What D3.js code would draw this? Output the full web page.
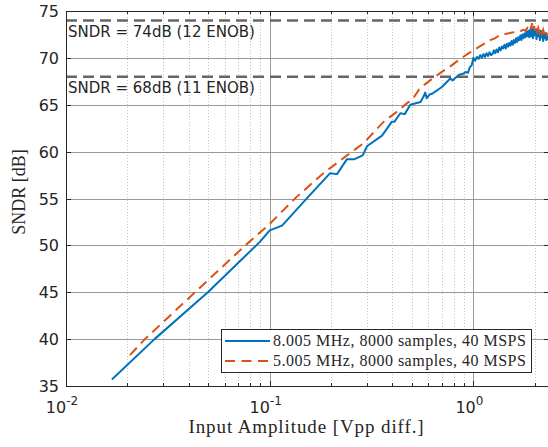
<!DOCTYPE html>
<html>
<head>
<meta charset="utf-8">
<script src="https://cdn.jsdelivr.net/npm/d3@7"></script>
<style>
  body { margin: 0; background: #fff; }
  svg { display: block; }
  .tick-label { font-family: "DejaVu Sans", sans-serif; fill: #262626; }
  .serif { font-family: "Liberation Serif", "DejaVu Serif", serif; fill: #262626; }
</style>
</head>
<body>
<script>
// Amplitude sweep, 8.005 MHz input
var ampBlue = [0.0168, 0.0272, 0.0497, 0.0897, 0.1, 0.115, 0.149, 0.198, 0.214, 0.2395, 0.261, 0.286, 0.301, 0.356, 0.398, 0.41, 0.4375,
  0.46, 0.49, 0.51, 0.55, 0.57, 0.58, 0.59, 0.61, 0.63, 0.66, 0.70, 0.73, 0.77, 0.79, 0.82, 0.85, 0.89, 0.92, 0.94, 0.96, 0.98,
  1.00, 1.02, 1.04, 1.06, 1.08, 1.10, 1.12, 1.14, 1.16, 1.18, 1.20, 1.22, 1.24, 1.26, 1.28, 1.30, 1.32, 1.34, 1.36, 1.38,
  1.40, 1.42, 1.44, 1.46, 1.48, 1.50, 1.52, 1.54, 1.56, 1.58, 1.60, 1.62, 1.64, 1.66, 1.68, 1.70, 1.72, 1.74, 1.76, 1.78,
  1.80, 1.82, 1.84, 1.86, 1.88, 1.90, 1.92, 1.94, 1.96, 1.98, 2.00, 2.02, 2.04, 2.06, 2.08, 2.10, 2.12, 2.14, 2.16, 2.18,
  2.20, 2.22, 2.24, 2.26, 2.28, 2.30, 2.32, 2.34, 2.36];
var sndrBlue = [35.7, 40, 45, 50.4, 51.6, 52.1, 54.8, 57.7, 57.6, 59.2, 59.2, 59.6, 60.6, 61.7, 63.2, 63.2, 64.1,
  64.0, 65.0, 65.1, 65.3, 65.9, 66.3, 65.7, 66.1, 66.2, 66.5, 66.9, 67.3, 67.8, 67.6, 67.9, 68.2, 68.3, 68.5, 68.4, 69.0, 69.2,
  70.0, 69.7, 70.1, 69.9, 70.3, 70.0, 70.4, 70.1, 70.5, 70.2, 70.6, 70.3, 70.4, 70.8, 70.5, 70.9, 70.6, 71.1, 70.8, 71.2,
  71.0, 71.4, 71.0, 71.5, 71.2, 71.6, 71.3, 71.8, 71.4, 71.9, 71.6, 72.1, 71.7, 72.2, 71.9, 72.4, 71.9, 72.5, 72.1, 72.6,
  72.2, 72.8, 72.3, 72.9, 72.2, 73.0, 72.3, 73.1, 72.1, 73.2, 72.4, 73.0, 72.0, 73.1, 72.3, 72.9, 71.9, 72.9, 72.2, 72.8,
  71.8, 72.7, 72.1, 72.6, 71.9, 72.5, 72.0, 72.4, 72.2];

// Amplitude sweep, 5.005 MHz input
var ampOrange = [0.0206, 0.0244, 0.043, 0.0759, 0.098, 0.136, 0.1836, 0.2395, 0.289, 0.363, 0.43, 0.474, 0.50, 0.54, 0.58, 0.63,
  0.70, 0.77, 0.85, 0.95, 1.07, 1.21, 1.28, 1.34, 1.47, 1.55, 1.63, 1.72, 1.76, 1.80, 1.84, 1.87, 1.90, 1.92, 1.94, 1.96,
  1.98, 2.00, 2.02, 2.05, 2.08, 2.11, 2.14, 2.17, 2.20, 2.23, 2.26, 2.30, 2.36];
var sndrOrange = [38.3, 40, 45, 50, 52.1, 55.2, 57.7, 59.6, 60.9, 63.2, 64.4, 65.2, 65.5, 66.6, 67.2, 67.8,
  68.5, 69.1, 69.8, 70.5, 71.2, 71.9, 72.1, 72.4, 72.6, 72.7, 72.8, 72.9, 73.0, 72.9, 73.2, 73.0, 73.4, 73.1, 73.7, 73.0,
  73.4, 72.9, 73.3, 72.8, 73.2, 72.7, 73.1, 72.6, 73.0, 72.5, 72.9, 72.4, 72.6];

var seriesNames = ["8.005 MHz, 8000 samples, 40 MSPS", "5.005 MHz, 8000 samples, 40 MSPS"];
var refLevels = [74, 68];
var refLabels = ["SNDR = 74dB (12 ENOB)", "SNDR = 68dB (11 ENOB)"];
var yTicks = [35, 40, 45, 50, 55, 60, 65, 70, 75];
var xDecades = [0.01, 0.1, 1];
var xExps = ["-2", "-1", "0"];

var width = 548, height = 447;
var margin = {left: 66, right: -1, top: 11, bottom: 61};

var svg = d3.select("body").append("svg")
    .attr("width", width)
    .attr("height", height);

var x = d3.scaleLog()
    .domain([0.01, 2.35])
    .range([margin.left, width - margin.right]);

var y = d3.scaleLinear()
    .domain([35, 75])
    .range([height - margin.bottom, margin.top]);

var x0 = x.range()[0], x1 = x.range()[1], y0 = y.range()[0], y1 = y.range()[1];

// minor grid (2..9 per decade)
var minorTicks = [];
xDecades.forEach(function(d){
    for (var k = 2; k <= 9; k++){
        if (d * k <= 2.35) minorTicks.push(d * k);
    }
});

svg.selectAll(".minor")
    .data(minorTicks)
    .enter()
    .append("line")
    .attr("class", "minor")
    .attr("x1", d => Math.round(x(d)) + 0.5)
    .attr("x2", d => Math.round(x(d)) + 0.5)
    .attr("y1", y1)
    .attr("y2", y0)
    .style("stroke", "#c4c4c4")
    .style("stroke-width", 1)
    .style("stroke-dasharray", "1,2");

// major grid
svg.selectAll(".gridx")
    .data(xDecades.slice(1))
    .enter()
    .append("line")
    .attr("x1", d => Math.round(x(d)) + 0.5)
    .attr("x2", d => Math.round(x(d)) + 0.5)
    .attr("y1", y1)
    .attr("y2", y0)
    .style("stroke", "#9a9a9a")
    .style("stroke-width", 1);

svg.selectAll(".gridy")
    .data(yTicks.slice(1, -1))
    .enter()
    .append("line")
    .attr("x1", x0)
    .attr("x2", x1)
    .attr("y1", d => Math.round(y(d)) + 0.5)
    .attr("y2", d => Math.round(y(d)) + 0.5)
    .style("stroke", "#9a9a9a")
    .style("stroke-width", 1);

// reference levels
svg.selectAll(".ref")
    .data(refLevels)
    .enter()
    .append("line")
    .attr("x1", x0)
    .attr("x2", x1)
    .attr("y1", d => y(d))
    .attr("y2", d => y(d))
    .style("stroke", "#666")
    .style("stroke-width", 2.5)
    .style("stroke-dasharray", "11,6");

svg.selectAll(".refLabel")
    .data(refLabels)
    .enter()
    .append("text")
    .attr("class", "tick-label")
    .attr("x", x0 + 2)
    .attr("y", (d, i) => y(refLevels[i]) + 16.5)
    .style("font-size", "15px")
    .text(d => d);

// data lines
svg.append("clipPath").attr("id", "clip")
    .append("rect")
    .attr("x", x0).attr("y", y1)
    .attr("width", x1 - x0).attr("height", y0 - y1);

var line = d3.line()
    .x(d => x(d[0]))
    .y(d => y(d[1]));

var blueData = ampBlue.map((a, i) => [a, sndrBlue[i]]);
var orangeData = ampOrange.map((a, i) => [a, sndrOrange[i]]);

svg.append("path")
    .datum(blueData)
    .attr("clip-path", "url(#clip)")
    .attr("d", line)
    .style("fill", "none")
    .style("stroke", "#0072BD")
    .style("stroke-width", 2)
    .style("stroke-linejoin", "round");

svg.append("path")
    .datum(orangeData)
    .attr("clip-path", "url(#clip)")
    .attr("d", line)
    .style("fill", "none")
    .style("stroke", "#D95319")
    .style("stroke-width", 2)
    .style("stroke-dasharray", "10,6");

// axes box and ticks
var ax = svg.append("g").style("stroke", "#262626").style("stroke-width", 1);
ax.append("rect")
    .attr("x", x0 + 0.5).attr("y", y1 + 0.5)
    .attr("width", x1 - x0).attr("height", y0 - y1)
    .style("fill", "none");

yTicks.forEach(function(t){
    var yy = Math.round(y(t)) + 0.5;
    ax.append("line").attr("x1", x0).attr("x2", x0 + 5).attr("y1", yy).attr("y2", yy);
    ax.append("line").attr("x1", x1 - 5).attr("x2", x1).attr("y1", yy).attr("y2", yy);
});
xDecades.forEach(function(t){
    var xx = Math.round(x(t)) + 0.5;
    ax.append("line").attr("x1", xx).attr("x2", xx).attr("y1", y0).attr("y2", y0 - 5);
    ax.append("line").attr("x1", xx).attr("x2", xx).attr("y1", y1).attr("y2", y1 + 5);
});
minorTicks.forEach(function(t){
    var xx = Math.round(x(t)) + 0.5;
    ax.append("line").attr("x1", xx).attr("x2", xx).attr("y1", y0).attr("y2", y0 - 3);
    ax.append("line").attr("x1", xx).attr("x2", xx).attr("y1", y1).attr("y2", y1 + 3);
});

// tick labels
svg.selectAll(".ylab")
    .data(yTicks)
    .enter()
    .append("text")
    .attr("class", "tick-label")
    .attr("x", x0 - 7)
    .attr("y", d => y(d) + 6)
    .attr("text-anchor", "end")
    .style("font-size", "16px")
    .text(d => d);

var xl = svg.selectAll(".xlab")
    .data(xDecades)
    .enter()
    .append("text")
    .attr("class", "tick-label")
    .attr("x", d => x(d) - 4)
    .attr("y", y0 + 27)
    .attr("text-anchor", "middle")
    .style("font-size", "16px");
xl.append("tspan").text("10");
xl.append("tspan")
    .attr("dy", -8)
    .style("font-size", "12px")
    .text((d, i) => xExps[i]);

// axis titles
svg.append("text")
    .attr("class", "serif")
    .attr("x", (x0 + x1) / 2 - 1)
    .attr("y", 433)
    .attr("text-anchor", "middle")
    .style("font-size", "19px")
    .style("letter-spacing", "0.9px")
    .text("Input Amplitude [Vpp diff.]");

svg.append("text")
    .attr("class", "serif")
    .attr("transform", "translate(25," + 192 + ") rotate(-90)")
    .attr("text-anchor", "middle")
    .style("font-size", "18px")
    .text("SNDR [dB]");

// legend
var lg = svg.append("g");
lg.append("rect")
    .attr("x", 221.5).attr("y", 329.5)
    .attr("width", 310).attr("height", 43)
    .style("fill", "#fff")
    .style("stroke", "#262626")
    .style("stroke-width", 1);

var legendColors = ["#0072BD", "#D95319"];
var legendDash = [null, "10,6.5"];
seriesNames.forEach(function(name, i){
    var ly = 341 + i * 20;
    lg.append("line")
        .attr("x1", 225).attr("x2", 270)
        .attr("y1", ly).attr("y2", ly)
        .style("stroke", legendColors[i])
        .style("stroke-width", 2)
        .style("stroke-dasharray", legendDash[i]);
    lg.append("text")
        .attr("class", "serif")
        .attr("x", 273)
        .attr("y", ly + 5)
        .style("font-size", "16px")
        .style("letter-spacing", "0.5px")
        .text(name);
});
</script>
</body>
</html>
